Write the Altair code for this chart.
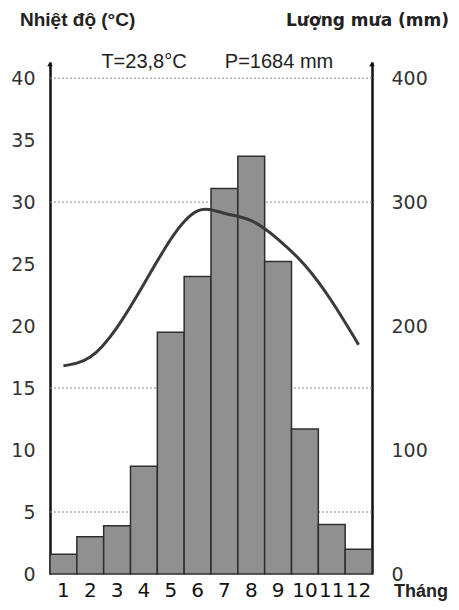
import altair as alt
import pandas as pd

# ---- data ----
months = [1, 2, 3, 4, 5, 6, 7, 8, 9, 10, 11, 12]
rain_mm = [16, 30, 39, 87, 195, 240, 311, 337, 252, 117, 40, 20]
temp_c = [16.8, 17.5, 19.9, 23.4, 27.0, 29.3, 29.1, 28.5, 27.0, 24.9, 22.0, 18.5]
temp_ticks = [0, 5, 10, 15, 20, 25, 30, 35, 40]
rain_ticks = [0, 100, 200, 300, 400]
grid_lines = [5, 15, 30, 40]

left_title = "Nhiệt độ (°C)"
right_title = "Lượng mưa (mm)"
x_title = "Tháng"
t_text = "T=23,8°C"
p_text = "P=1684 mm"

df = pd.DataFrame({"month": months, "rain": rain_mm, "temp": temp_c})
grid_df = pd.DataFrame({"g": grid_lines})

W, H = 322, 512
TMAX = 41.3
PMAX = 413
NUM_FONT = "DejaVu Sans"
TXT_FONT = "Liberation Sans"

x_enc = alt.X(
    "month:O",
    scale=alt.Scale(paddingInner=0, paddingOuter=0),
    axis=alt.Axis(
        title=None, labelAngle=0, domain=False, ticks=False,
        labelFont=NUM_FONT, labelFontSize=20, labelColor="#111",
        labelPadding=22, labelBaseline="alphabetic",
        labelOverlap=False, labelBound=False, grid=False,
    ),
)

grid = alt.Chart(grid_df).mark_rule(
    color="#8a8a8a", strokeWidth=1, strokeDash=[2, 2]
).encode(
    y=alt.Y("g:Q", scale=alt.Scale(domain=[0, TMAX], nice=False), axis=None)
)

bars = alt.Chart(df).mark_bar(
    color="#909090", stroke="#2e2e2e", strokeWidth=1.5
).encode(
    x=x_enc,
    y=alt.Y(
        "rain:Q",
        scale=alt.Scale(domain=[0, PMAX], nice=False),
        axis=alt.Axis(
            orient="right", values=rain_ticks, title=None, grid=False,
            ticks=False, domainWidth=2.5, domainColor="#111",
            labelFont=NUM_FONT, labelFontSize=19, labelColor="#333",
            labelPadding=19, labelBound=False, labelOverlap=False,
        ),
    ),
)

line = alt.Chart(df).mark_line(
    interpolate="natural", color="#3a3a3a", strokeWidth=3
).encode(
    x=x_enc,
    y=alt.Y(
        "temp:Q",
        scale=alt.Scale(domain=[0, TMAX], nice=False),
        axis=alt.Axis(
            orient="left", values=temp_ticks, title=None, grid=False,
            ticks=False, domainWidth=2.5, domainColor="#111",
            labelFont=NUM_FONT, labelFontSize=19, labelColor="#333",
            labelPadding=15, labelBound=False, labelOverlap=False,
        ),
    ),
)


def label(txt, px, py, size, align, weight="normal", font=TXT_FONT, baseline="alphabetic"):
    return alt.Chart(pd.DataFrame({"t": [txt]})).mark_text(
        font=font, fontSize=size, fontWeight=weight, align=align,
        baseline=baseline, color="#222",
    ).encode(x=alt.value(px), y=alt.value(py), text="t:N")


arrows = alt.Chart(pd.DataFrame({"t": ["a"]})).mark_point(
    shape="triangle-up", filled=True, size=30, color="#111", opacity=1
)
arrow_l = arrows.encode(x=alt.value(0), y=alt.value(2))
arrow_r = arrows.encode(x=alt.value(W), y=alt.value(2))

texts = [
    label(left_title, -30, -36, 19, "left", "bold"),
    label(right_title, 399, -36, 17, "right", "bold", font="DejaVu Sans"),
    label(t_text, 94, 6, 20, "center"),
    label(p_text, 229, 6, 20, "center"),
    label(x_title, 371, 539, 18, "center", "bold", baseline="bottom"),
]

chart = alt.layer(grid, bars, line, arrow_l, arrow_r, *texts).resolve_scale(
    y="independent"
).properties(
    width=W, height=H,
    autosize="none",
    padding={"left": 42, "top": 54, "right": 79, "bottom": 28},
    background="white",
).configure_view(stroke=None)

chart.save("out.html", embed_options={"renderer": "svg", "actions": False})
